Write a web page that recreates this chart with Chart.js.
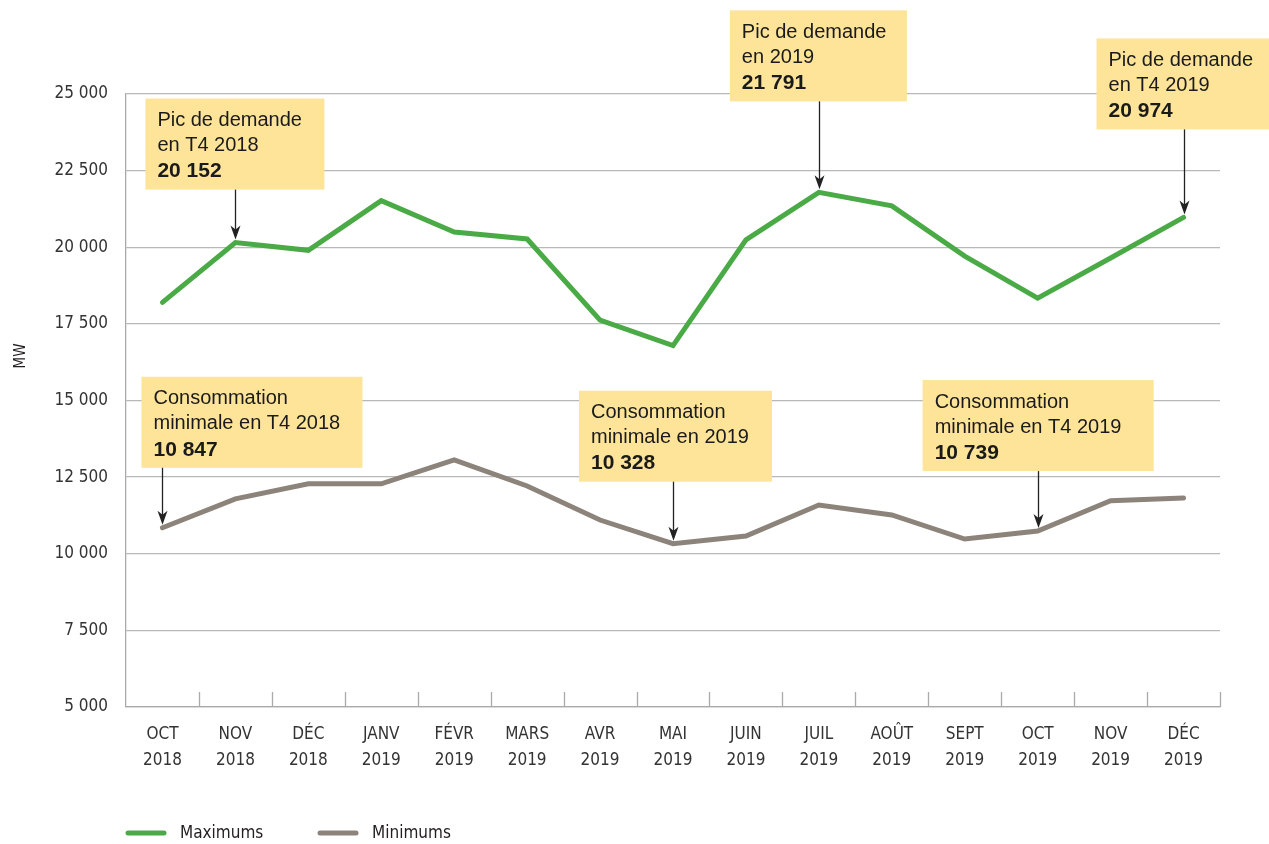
<!DOCTYPE html>
<html>
<head>
<meta charset="utf-8">
<script src="https://cdn.jsdelivr.net/npm/chart.js@4.4.1/dist/chart.umd.min.js"></script>
<style>
html,body{margin:0;padding:0;background:#fff;}
#wrap{width:1269px;height:844px;position:relative;}
</style>
</head>
<body>
<div id="wrap"><canvas id="c" width="1269" height="844"></canvas></div>
<script>
// ---- data ----
const monthLabels = [['OCT','2018'],['NOV','2018'],['DÉC','2018'],['JANV','2019'],['FÉVR','2019'],['MARS','2019'],['AVR','2019'],['MAI','2019'],['JUIN','2019'],['JUIL','2019'],['AOÛT','2019'],['SEPT','2019'],['OCT','2019'],['NOV','2019'],['DÉC','2019']];
const maximums = [18200, 20152, 19900, 21520, 20500, 20270, 17620, 16790, 20240, 21791, 21350, 19710, 18340, 19650, 20974];
const minimums = [10847, 11790, 12280, 12280, 13060, 12210, 11100, 10328, 10580, 11590, 11265, 10480, 10739, 11730, 11820];
const yTickValues = [5000, 7500, 10000, 12500, 15000, 17500, 20000, 22500, 25000];
const seriesNames = ['Maximums', 'Minimums'];
const annotationTexts = [
  {ds:0, i:1,  lines:['Pic de demande','en T4 2018'], value:'20 152'},
  {ds:0, i:9,  lines:['Pic de demande','en 2019'], value:'21 791'},
  {ds:0, i:14, lines:['Pic de demande','en T4 2019'], value:'20 974'},
  {ds:1, i:0,  lines:['Consommation','minimale en T4 2018'], value:'10 847'},
  {ds:1, i:7,  lines:['Consommation','minimale en 2019'], value:'10 328'},
  {ds:1, i:12, lines:['Consommation','minimale en T4 2019'], value:'10 739'}
];
// ---- styling (box placement relative to the annotated point) ----
const boxLayout = [
  {dx:-90,  dy:-144, w:179},
  {dx:-89,  dy:-182, w:177},
  {dx:-87,  dy:-179, w:180},
  {dx:-21,  dy:-151, w:221},
  {dx:-94,  dy:-153, w:193},
  {dx:-115, dy:-151, w:231}
];
const COLORS = ['#4aaa46', '#8c847b'];
const NARROW = '"DejaVu Sans Condensed", "Liberation Sans Narrow", Arial, sans-serif';
const BOXFONT = '"Liberation Sans", Arial, sans-serif';

function fmt(v){ return String(v).replace(/\B(?=(\d{3})+(?!\d))/g, ' '); }

const extras = {
  id: 'extras',
  afterDraw(chart){
    const ctx = chart.ctx;
    const x = chart.scales.x;
    const area = chart.chartArea;
    ctx.save();
    // x axis tick marks (category boundaries), pointing up into the plot
    const half = (x.getPixelForValue(1) - x.getPixelForValue(0)) / 2;
    ctx.strokeStyle = '#aaaaaa';
    ctx.lineWidth = 1.3;
    for (let i = 0; i < monthLabels.length; i++) {
      const px = Math.round(x.getPixelForValue(i) + half) + 0.5;
      ctx.beginPath();
      ctx.moveTo(px, area.bottom);
      ctx.lineTo(px, area.bottom - 15);
      ctx.stroke();
    }
    // y title
    ctx.save();
    ctx.translate(21, 356);
    ctx.rotate(-Math.PI/2);
    ctx.fillStyle = '#231f20';
    ctx.font = '15px ' + NARROW;
    ctx.textAlign = 'center';
    ctx.textBaseline = 'middle';
    ctx.fillText('MW', 0, 0);
    ctx.restore();

    // annotations
    annotationTexts.forEach((a, k) => {
      const L = boxLayout[k];
      const meta = chart.getDatasetMeta(a.ds);
      const pt = meta.data[a.i];
      const px = pt.x, py = pt.y;
      const left = px + L.dx, top = py + L.dy, h = 91;
      ctx.fillStyle = '#fde498';
      ctx.fillRect(left, top, L.w, h);
      ctx.fillStyle = '#1a1a1a';
      ctx.textAlign = 'left';
      ctx.textBaseline = 'middle';
      ctx.font = '20px ' + BOXFONT;
      ctx.fillText(a.lines[0], left + 12, top + 22);
      ctx.fillText(a.lines[1], left + 12, top + 47);
      ctx.font = 'bold 21px ' + BOXFONT;
      ctx.fillText(a.value, left + 12, top + 73);
      // arrow
      const tipY = py - 3;
      const ax = Math.round(px) + 0.5;
      ctx.strokeStyle = '#222';
      ctx.lineWidth = 1.3;
      ctx.beginPath();
      ctx.moveTo(ax, top + h);
      ctx.lineTo(ax, tipY - 8);
      ctx.stroke();
      ctx.beginPath();
      ctx.moveTo(ax, tipY);
      ctx.lineTo(ax - 5, tipY - 14);
      ctx.lineTo(ax, tipY - 10);
      ctx.lineTo(ax + 5, tipY - 14);
      ctx.closePath();
      ctx.fillStyle = '#222';
      ctx.fill();
    });

    // legend
    const legendX = [126, 318];
    chart.data.datasets.forEach((d, k) => {
      const lx = legendX[k], ly = 833;
      ctx.strokeStyle = d.borderColor;
      ctx.lineWidth = 5;
      ctx.lineCap = 'round';
      ctx.beginPath();
      ctx.moveTo(lx + 2, ly);
      ctx.lineTo(lx + 38, ly);
      ctx.stroke();
      ctx.fillStyle = '#231f20';
      ctx.font = '17px ' + NARROW;
      ctx.textAlign = 'left';
      ctx.textBaseline = 'middle';
      ctx.fillText(d.label, lx + 54, ly + 1);
    });
    ctx.restore();
  }
};

new Chart(document.getElementById('c'), {
  type: 'line',
  data: {
    labels: monthLabels,
    datasets: [
      {label: seriesNames[0], data: maximums, borderColor: COLORS[0], borderWidth: 5, pointRadius: 0, tension: 0, borderCapStyle: 'round', fill: false},
      {label: seriesNames[1], data: minimums, borderColor: COLORS[1], borderWidth: 5, pointRadius: 0, tension: 0, borderCapStyle: 'round', fill: false}
    ]
  },
  options: {
    responsive: false,
    animation: false,
    devicePixelRatio: 1,
    layout: {padding: {top: 94, right: 49, left: 0, bottom: 0}},
    plugins: {legend: {display: false}, tooltip: {enabled: false}},
    scales: {
      x: {
        offset: true,
        grid: {display: false, drawTicks: false},
        border: {display: true, color: '#aaaaaa', width: 1.3},
        ticks: {color: '#333', font: {family: NARROW, size: 17, lineHeight: 1.5}, padding: 15, maxRotation: 0, autoSkip: false},
        afterFit(s){ s.height = 137; }
      },
      y: {
        min: 5000, max: 25000,
        afterBuildTicks(s){ s.ticks = yTickValues.map(v => ({value: v})); },
        grid: {color: '#b8b8b8', lineWidth: 1.3, drawTicks: false},
        border: {display: true, color: '#aaaaaa', width: 1.3},
        ticks: {color: '#333', font: {family: NARROW, size: 17}, padding: 18, callback: v => fmt(v)},
        afterFit(s){ s.width = 126; }
      }
    }
  },
  plugins: [extras]
});
</script>
</body>
</html>
